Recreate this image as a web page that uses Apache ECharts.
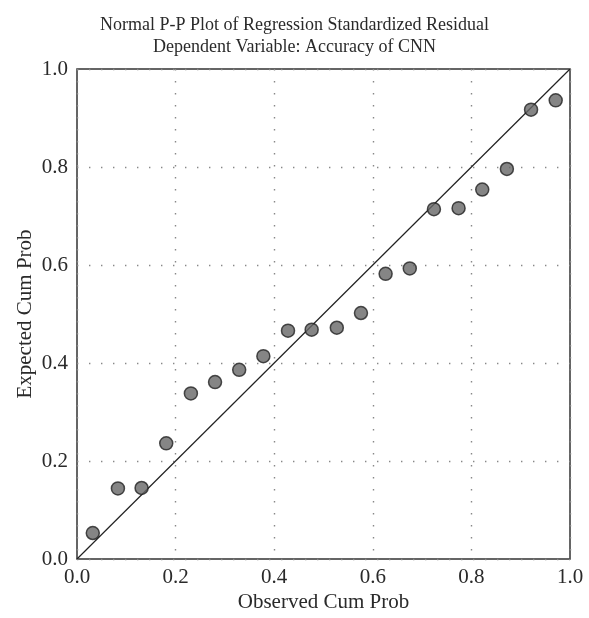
<!DOCTYPE html>
<html>
<head>
<meta charset="utf-8">
<script src="https://cdn.jsdelivr.net/npm/echarts@6/dist/echarts.min.js"></script>
<style>html,body{margin:0;padding:0;background:#fff;}#chart{width:589px;height:618px;}</style>
</head>
<body>
<div id="chart"></div>
<script>
var titleLines = ["Normal P-P Plot of Regression Standardized Residual", "Dependent Variable: Accuracy of CNN"];
var xAxisName = "Observed Cum Prob";
var yAxisName = "Expected Cum Prob";
var observed = [0.032, 0.083, 0.131, 0.181, 0.231, 0.280, 0.329, 0.378, 0.428, 0.476, 0.527, 0.576, 0.626, 0.675, 0.724, 0.774, 0.822, 0.872, 0.921, 0.971];
var expected = [0.053, 0.144, 0.145, 0.236, 0.338, 0.361, 0.386, 0.414, 0.466, 0.468, 0.472, 0.502, 0.582, 0.593, 0.714, 0.716, 0.754, 0.796, 0.917, 0.936];
var refLine = [[0, 0], [1, 1]];

var font = "'Liberation Serif', 'DejaVu Serif', serif";
var pts = observed.map(function (x, i) { return [x, expected[i]]; });
var chart = echarts.init(document.getElementById('chart'), null, {renderer: 'canvas'});
var gridLine = {show: true, lineStyle: {color: '#888', width: 1.4, type: [1.4, 10.6]}};
var txt = '#2a2a2a';
chart.setOption({
  animation: false,
  backgroundColor: '#fff',
  title: {
    text: titleLines.join('\n'),
    left: 'center',
    top: 9,
    textStyle: {fontFamily: font, fontSize: 18, fontWeight: 'normal', color: txt, lineHeight: 22}
  },
  grid: {left: 77, top: 69, width: 493, height: 493, show: true, borderColor: '#333', borderWidth: 1.5, backgroundColor: 'transparent'},
  xAxis: {
    type: 'value', min: 0, max: 1, interval: 0.2,
    name: xAxisName, nameLocation: 'middle', nameGap: 33, nameMoveOverlap: false,
    nameTextStyle: {fontFamily: font, fontSize: 21, color: txt},
    axisLine: {show: false}, axisTick: {show: false},
    axisLabel: {fontFamily: font, fontSize: 21, color: txt, margin: 8, formatter: function (v) { return v.toFixed(1); }},
    splitLine: gridLine
  },
  yAxis: {
    type: 'value', min: 0, max: 1, interval: 0.2,
    name: yAxisName, nameLocation: 'middle', nameGap: 41, nameMoveOverlap: false,
    nameTextStyle: {fontFamily: font, fontSize: 21, color: txt},
    axisLine: {show: false}, axisTick: {show: false},
    axisLabel: {fontFamily: font, fontSize: 21, color: txt, margin: 9, formatter: function (v) { return v.toFixed(1); }},
    splitLine: gridLine
  },
  series: [
    {type: 'line', data: refLine, symbol: 'none', lineStyle: {color: '#222', width: 1.2}, z: 2, silent: true},
    {type: 'scatter', data: pts, symbol: 'circle', symbolSize: 13, itemStyle: {color: '#676767', borderColor: '#222', borderWidth: 1.5}, z: 3}
  ]
});
</script>
</body>
</html>
